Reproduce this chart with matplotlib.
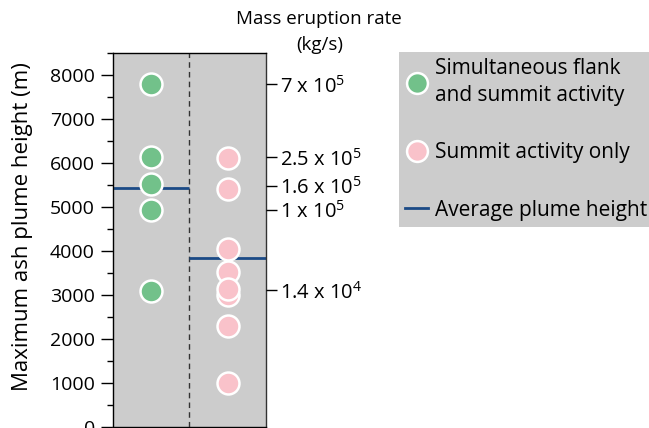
import matplotlib
matplotlib.use('Agg')
import matplotlib.pyplot as plt
from matplotlib.lines import Line2D

plt.rcParams.update({
    'font.family': ['Open Sans', 'DejaVu Sans'],
    'mathtext.fontset': 'custom',
    'mathtext.rm': 'Open Sans',
    'font.size': 14,
})

# plume heights (m)
flank_summit = [7790, 6120, 5510, 4935, 3090]
summit_only = [6100, 5400, 4040, 3520, 2990, 3140, 2290, 1000]
avg_heights = [5430, 3840]

# mass eruption rate ticks on right axis
mer_positions = [7790, 6120, 5480, 4930, 3100]
mer_labels = [r'7 x 10$^5$', r'2.5 x 10$^5$', r'1.6 x 10$^5$', r'1 x 10$^5$', r'1.4 x 10$^4$']

green = '#72c18a'
pink = '#f9c2ca'
navy = '#1b4a86'
box_gray = '#cccccc'

fig = plt.figure(figsize=(6.49, 4.28), dpi=100)
ax = fig.add_axes([113/649, 1.3/428, 152.7/649, 374/428])
ax.set_facecolor(box_gray)
ax.set_xlim(0, 2)
ax.set_ylim(0, 8500)

ax.scatter([0.5] * len(flank_summit), flank_summit, s=250, color=green,
           edgecolor='white', linewidth=1.8, zorder=3)
ax.scatter([1.5] * len(summit_only), summit_only, s=250, color=pink,
           edgecolor='white', linewidth=1.8, zorder=3)
ax.hlines(avg_heights[0], 0, 1, color=navy, linewidth=2, zorder=2)
ax.hlines(avg_heights[1], 1, 2, color=navy, linewidth=2, zorder=2)
ax.axvline(1, color='#333333', linestyle=(0, (4, 3)), linewidth=1, zorder=1)

ax.set_xticks([])
ax.set_yticks(range(0, 8001, 1000))
ax.set_yticks(range(500, 8501, 1000), minor=True)
ax.tick_params(axis='y', which='major', length=9, width=1, labelsize=14, pad=4)
ax.tick_params(axis='y', which='minor', length=4, width=1)
for s in ax.spines.values():
    s.set_color('#333333')
    s.set_linewidth(1)

# y label placed by hand so it sits where the original has it
fig.text(22.5/649, 1 - 227/428, 'Maximum ash plume height (m)', rotation=90,
         ha='center', va='center', fontsize=16)

ax2 = ax.twinx()
ax2.set_ylim(ax.get_ylim())
ax2.set_yticks(mer_positions)
ax2.set_yticklabels(mer_labels)
ax2.tick_params(axis='y', length=8, width=1, labelsize=14.5, pad=2)
ax2.spines['right'].set_visible(False)

fig.text(319/649, 1 - 19/428, 'Mass eruption rate', ha='center', va='center', fontsize=13.5)
fig.text(320/649, 1 - 45/428, '(kg/s)', ha='center', va='center', fontsize=13.5)

handles = [
    Line2D([], [], marker='o', linestyle='none', markersize=15, markerfacecolor=green,
           markeredgecolor='white', markeredgewidth=1.8),
    Line2D([], [], marker='o', linestyle='none', markersize=15, markerfacecolor=pink,
           markeredgecolor='white', markeredgewidth=1.8),
    Line2D([], [], color=navy, linewidth=2),
]
labels = ['Simultaneous flank\nand summit activity', 'Summit activity only', 'Average plume height']
leg = fig.legend(handles, labels, loc='upper left', bbox_to_anchor=(399/649, 1 - 52/428),
                 frameon=True, fancybox=False, facecolor=box_gray, edgecolor='none',
                 framealpha=1, fontsize=15, labelspacing=1.75, handlelength=1.1,
                 handletextpad=0.35, borderpad=0.3, borderaxespad=0)
for t in leg.get_texts():
    t.set_linespacing(1.35)

fig.savefig('out.png', dpi=100)
